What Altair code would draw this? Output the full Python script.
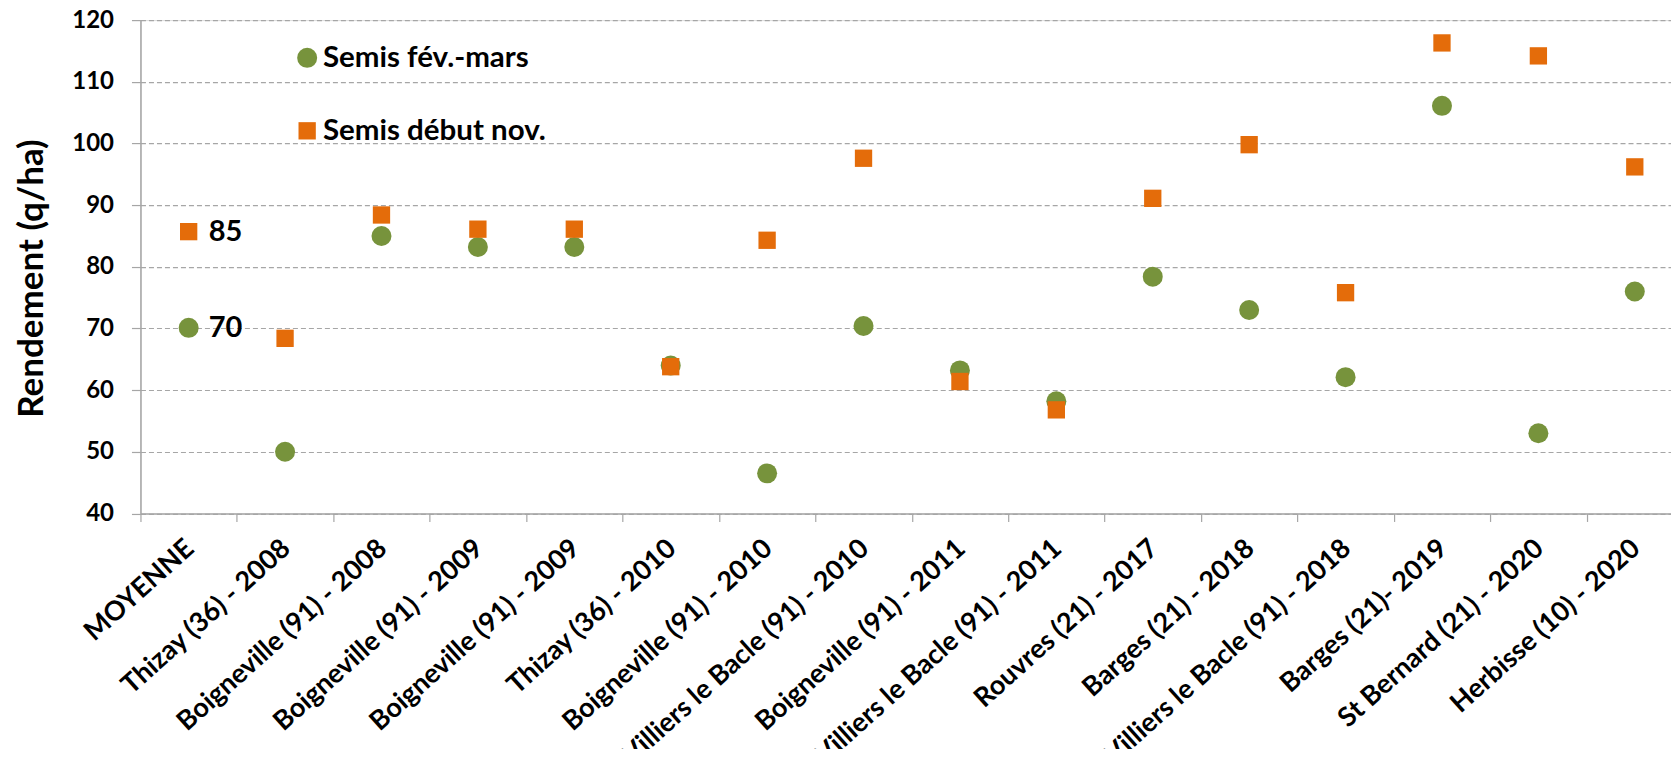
import altair as alt
import pandas as pd

categories = [
    "MOYENNE",
    "Thizay (36) - 2008",
    "Boigneville (91) - 2008",
    "Boigneville (91) - 2009",
    "Boigneville (91) - 2009",
    "Thizay (36) - 2010",
    "Boigneville (91) - 2010",
    "Villiers le Bacle (91) - 2010",
    "Boigneville (91) - 2011",
    "Villiers le Bacle (91) - 2011",
    "Rouvres (21) - 2017",
    "Barges (21) - 2018",
    "Villiers le Bacle (91) - 2018",
    "Barges (21)- 2019",
    "St Bernard (21) - 2020",
    "Herbisse (10) - 2020",
]
semis_fev_mars = [70.1, 50.0, 85.0, 83.2, 83.2, 64.0, 46.5, 70.4, 63.2, 58.2, 78.4, 73.0, 62.1, 106.1, 53.0, 76.0]
semis_debut_nov = [85.7, 68.4, 88.4, 86.1, 86.1, 63.8, 84.3, 97.6, 61.4, 56.8, 91.1, 99.8, 75.8, 116.3, 114.2, 96.2]
series_names = ["Semis fév.-mars", "Semis début nov."]
series_colors = ["#77933C", "#E46C0A"]
mean_labels = ["70", "85"]

rows = []
for s, vals in enumerate([semis_fev_mars, semis_debut_nov]):
    for i, v in enumerate(vals):
        rows.append({"idx": i, "value": v, "series": series_names[s], "ord": s * 100 + i,
                     "label": mean_labels[s] if i == 0 else ""})
df = pd.DataFrame(rows)

label_expr = "[" + ",".join('"%s"' % c for c in categories) + "][datum.value]"

x_enc = alt.X(
    "idx:O",
    sort=None,
    scale=alt.Scale(type="band", paddingInner=0, paddingOuter=0, range=[0, 1543]),
    axis=alt.Axis(
        title=None,
        labelExpr=label_expr,
        labelAngle=-42,
        labelAlign="right",
        labelBaseline="middle",
        labelPadding=23,
        labelOffset=1,
        labelLimit=0,
        tickBand="extent",
        tickSize=8,
        grid=False,
        labelOverlap=False,
        labelFont="Lato",
        labelFontWeight="bold",
        labelFontSize=27,
        labelColor="#000000",
        domainColor="#a6a6a6",
        domainWidth=1.5,
        tickColor="#a6a6a6",
        tickWidth=1.2,
    ),
)
y_enc = alt.Y(
    "value:Q",
    scale=alt.Scale(domain=[40, 120], nice=False, zero=False),
    axis=alt.Axis(
        title="Rendement (q/ha)",
        values=list(range(40, 121, 10)),
        grid=True,
        gridDash=[5, 3],
        gridColor="#a6a6a6",
        gridWidth=1.2,
        tickSize=9,
        labelPadding=18,
        labelFont="Lato",
        labelFontWeight="bold",
        labelFontSize=24,
        labelColor="#000000",
        domainColor="#a6a6a6",
        domainWidth=1.5,
        tickColor="#a6a6a6",
        tickWidth=1.2,
        titleFont="Lato",
        titleFontWeight="bold",
        titleFontSize=35,
        titleColor="#000000",
        titleX=-109,
        titleY=258,
        titleAlign="center",
        titleBaseline="middle",
        titleAngle=-90,
        titleLimit=0,
    ),
)

legend = alt.Legend(
    title=None,
    orient="none",
    legendX=152,
    legendY=23,
    padding=0,
    rowPadding=42,
    labelOffset=1,
    labelLimit=0,
    labelFont="Lato",
    labelFontWeight="bold",
    labelFontSize=29.5,
    labelColor="#000000",
)

points = alt.Chart(df).mark_point(filled=True, opacity=1).encode(
    x=x_enc,
    y=y_enc,
    color=alt.Color("series:N", scale=alt.Scale(domain=series_names, range=series_colors), legend=legend),
    shape=alt.Shape("series:N", scale=alt.Scale(domain=series_names, range=["circle", "square"]), legend=legend),
    size=alt.Size("series:N", scale=alt.Scale(domain=series_names, range=[400, 300]), legend=legend),
    order=alt.Order("ord:Q"),
)

labels = alt.Chart(df).transform_filter("datum.idx == 0").mark_text(
    align="left", baseline="middle", dx=20, font="Lato", fontWeight="bold", fontSize=29, color="#000000"
).encode(x=x_enc, y=y_enc, text="label:N")

chart = (
    alt.layer(points, labels)
    .properties(
        width=1531,
        height=493.5,
        autosize=alt.AutoSizeParams(type="none"),
        padding={"left": 132.5, "top": 12, "right": 0, "bottom": 235.5},
    )
    .configure_view(stroke=None)
    .configure(background="white")
)

chart.save("out.html", embed_options={"renderer": "svg", "actions": False})
